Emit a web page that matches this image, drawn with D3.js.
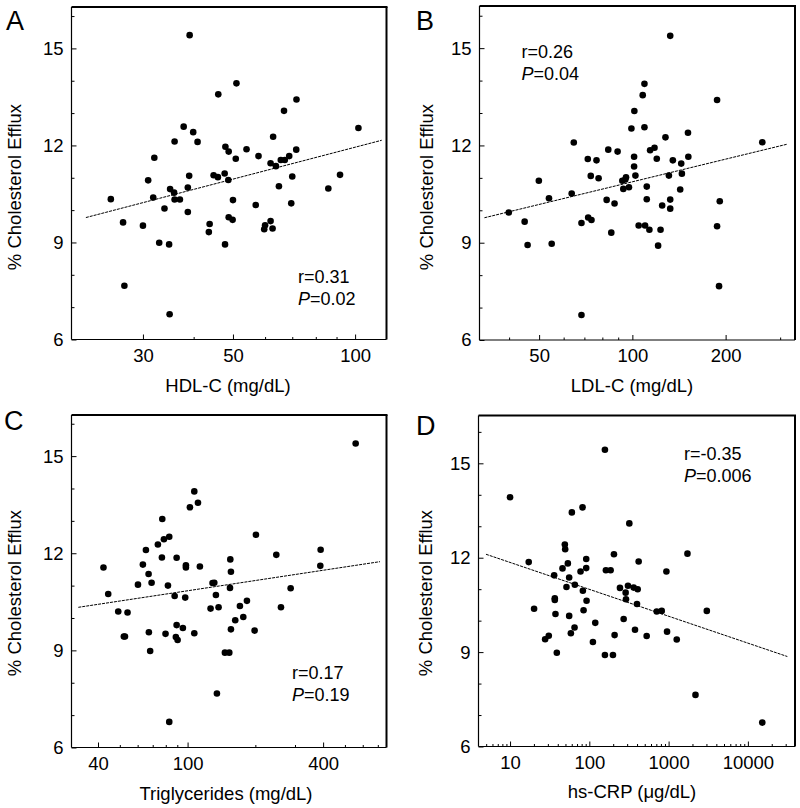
<!DOCTYPE html>
<html>
<head>
<meta charset="utf-8">
<script src="https://cdn.jsdelivr.net/npm/d3@7"></script>
<style>
  html, body { margin: 0; padding: 0; background: #fff; }
  svg { display: block; font-family: "Liberation Sans", Arial, sans-serif; }
</style>
</head>
<body>
<svg id="chart" width="800" height="808"></svg>
<script>
// ---- data ----
// Panel A: HDL-C (mg/dL) vs % cholesterol efflux
const hdlX = [39.1, 51.0, 46.0, 71.7, 66.8, 37.8, 39.9, 101.9, 35.9, 40.9, 62.8, 47.9, 48.8, 54.0, 71.6,
  32.0, 57.8, 50.8, 68.8, 65.6, 67.1, 61.9, 63.8, 47.7, 44.8, 45.9, 39.0, 70.0, 91.8, 30.9, 48.7, 38.7,
  64.9, 85.9, 25.0, 31.8, 35.0, 35.8, 35.9, 37.0, 50.0, 56.9, 69.6, 33.9, 38.7, 26.8, 30.0, 43.8, 48.8,
  49.9, 43.6, 59.7, 60.0, 61.9, 62.6, 32.9, 34.8, 47.8, 27.0, 34.9];
const hdlY = [15.41, 13.92, 13.58, 13.42, 13.07, 12.58, 12.41, 12.54, 12.12, 12.11, 12.27, 11.96, 11.81,
  11.88, 11.87, 11.62, 11.67, 11.59, 11.67, 11.55, 11.55, 11.45, 11.36, 11.13, 11.08, 11.02, 11.06, 11.04,
  11.09, 10.92, 10.93, 10.70, 10.74, 10.67, 10.34, 10.39, 10.65, 10.54, 10.33, 10.33, 10.31, 10.16, 10.21,
  10.05, 9.94, 9.62, 9.52, 9.57, 9.78, 9.70, 9.32, 9.41, 9.53, 9.66, 9.43, 8.99, 8.94, 8.94, 7.66, 6.78];

// Panel B: LDL-C (mg/dL)
const ldlX = [132.5, 109.4, 108.0, 187.7, 101.5, 109.4, 99.3, 151.2, 64.7, 262.7, 127.9, 83.6, 89.6, 117.9,
  114.1, 71.8, 76.6, 101.3, 119.9, 135.1, 151.6, 143.8, 101.3, 73.4, 77.8, 102.3, 131.2, 144.5, 49.9, 92.8,
  95.4, 94.9, 93.5, 97.5, 53.8, 63.7, 111.3, 142.7, 82.6, 87.6, 111.3, 132.5, 124.8, 132.5, 39.9, 44.9, 68.5,
  72.0, 73.8, 104.8, 109.9, 113.5, 123.3, 85.5, 187.7, 191.5, 45.9, 54.9, 121.1, 190.5, 68.5];
const ldlY = [15.38, 13.90, 13.55, 13.40, 13.06, 12.56, 12.52, 12.39, 12.09, 12.10, 12.25, 11.87, 11.81,
  11.93, 11.85, 11.58, 11.54, 11.65, 11.59, 11.54, 11.65, 11.44, 11.35, 11.06, 10.99, 11.07, 11.07, 11.13,
  10.91, 10.91, 11.02, 10.95, 10.66, 10.71, 10.37, 10.52, 10.73, 10.64, 10.32, 10.21, 10.34, 10.33, 10.15,
  10.05, 9.93, 9.65, 9.61, 9.78, 9.70, 9.53, 9.53, 9.40, 9.40, 9.31, 9.51, 10.28, 8.93, 8.97, 8.91, 7.66, 6.77];

// Panel C: triglycerides (mg/dL)
const tgX = [558, 107.1, 111.2, 102.4, 77.2, 82.9, 78.5, 73.8, 65.3, 201.2, 390, 247.8, 76.9, 89.4, 63.3,
  42.3, 98.3, 98.3, 113.4, 154.8, 155.8, 67.1, 388.7, 69.2, 60.2, 81.8, 129.1, 131.4, 44.4, 133.6, 87.6,
  154.3, 97.6, 287, 49.2, 54.1, 126.5, 137.3, 183.5, 170.8, 259.9, 162.8, 176.8, 52.1, 52.7, 67.3, 79.8,
  89.4, 95.3, 88.7, 90.3, 107.1, 155.8, 198.5, 68.2, 146.5, 153.2, 135.0, 82.9];
const tgY = [15.39, 13.91, 13.56, 13.42, 13.06, 12.51, 12.43, 12.27, 12.10, 12.57, 12.11, 11.95, 11.87,
  11.86, 11.65, 11.56, 11.63, 11.56, 11.59, 11.81, 11.43, 11.36, 11.61, 11.09, 11.03, 11.00, 11.08, 11.09,
  10.74, 10.71, 10.68, 10.93, 10.63, 10.92, 10.20, 10.17, 10.29, 10.33, 10.53, 10.37, 10.33, 9.93, 10.03,
  9.43, 9.43, 9.56, 9.51, 9.78, 9.69, 9.41, 9.32, 9.53, 9.65, 9.61, 8.98, 8.93, 8.93, 7.67, 6.79];

// Panel D: hs-CRP (ug/dL)
const crpX = [157.3, 10, 82.1, 60.2, 319.5, 49.1, 49.6, 1729, 204.5, 17.2, 419, 91.4, 53.6, 45.9, 91.4,
  77.5, 161.9, 185.5, 938, 36.0, 55.7, 65.7, 51.5, 243.5, 307.3, 362.4, 407.3, 82.9, 287.1, 36.7, 36.7,
  290, 92.3, 399.4, 20.1, 37.4, 84.6, 55.7, 708, 819, 3034, 118.8, 270.9, 65.1, 58.5, 376.9, 956, 27.7,
  30.8, 111, 208.4, 529, 1267, 38.9, 157.3, 198.6, 2183, 15190];
const crpY = [15.43, 13.92, 13.60, 13.44, 13.09, 12.42, 12.27, 12.13, 12.11, 11.86, 11.88, 11.96, 11.82,
  11.66, 11.67, 11.56, 11.60, 11.60, 11.56, 11.44, 11.37, 11.14, 11.07, 11.04, 11.11, 11.05, 11.00, 10.95,
  10.89, 10.71, 10.66, 10.68, 10.63, 10.53, 10.38, 10.21, 10.33, 10.15, 10.29, 10.31, 10.31, 9.93, 10.05,
  9.78, 9.60, 9.71, 9.65, 9.41, 9.52, 9.32, 9.54, 9.51, 9.40, 8.98, 8.91, 8.91, 7.64, 6.76];

// regression line end points [x, y]
const hdlFit = [[21.7, 9.77], [116.3, 12.16]];
const ldlFit = [[33.3, 9.77], [316.6, 12.04]];
const tgFit = [[32.7, 10.33], [715.7, 11.74]];
const crpFit = [[4.97, 12.11], [31450, 8.86]];

// y ticks (shared)
const yMajor = [6, 9, 12, 15];
const yMinor = [7, 8, 10, 11, 13, 14, 16];

// x ticks
const hdlMajor = [30, 50, 100];
const hdlMinor = [40, 60, 70, 80, 90];
const ldlMajor = [50, 100, 200];
const ldlMinor = [40, 60, 70, 80, 90, 300];
const tgMajor = [40, 100, 400];
const tgMinor = [50, 60, 70, 80, 90, 200, 300, 500, 600, 700];
const crpMajor = [10, 100, 1000, 10000];
const crpMinor = [5, 6, 7, 8, 9, 20, 30, 40, 50, 60, 70, 80, 90, 200, 300, 400, 500, 600, 700, 800, 900,
  2000, 3000, 4000, 5000, 6000, 7000, 8000, 9000, 20000, 30000];

const svg = d3.select('#chart');

const panels = [
  { letter: 'A', xs: hdlX, ys: hdlY, fit: hdlFit, major: hdlMajor, minor: hdlMinor,
    xDomain: [20, 119.5], yDomain: [6, 16.28],
    left: 71.5, right: 386.5, top: 7, bottom: 339.5,
    xTitle: 'HDL-C (mg/dL)', xTitlePos: [228, 392], yTitlePos: [20.5, 187],
    letterPos: [6, 30], r: 'r=0.31', p: '=0.02', statPos: [298, 283] },
  { letter: 'B', xs: ldlX, ys: ldlY, fit: ldlFit, major: ldlMajor, minor: ldlMinor,
    xDomain: [32.1, 335], yDomain: [6, 16.3],
    left: 479.5, right: 795, top: 6, bottom: 340,
    xTitle: 'LDL-C (mg/dL)', xTitlePos: [632, 392], yTitlePos: [432.5, 187],
    letterPos: [416, 29.5], r: 'r=0.26', p: '=0.04', statPos: [521.5, 58] },
  { letter: 'C', xs: tgX, ys: tgY, fit: tgFit, major: tgMajor, minor: tgMinor,
    xDomain: [30.5, 765], yDomain: [6, 16.27],
    left: 71.5, right: 386.5, top: 415, bottom: 747.5,
    xTitle: 'Triglycerides (mg/dL)', xTitlePos: [226, 800], yTitlePos: [21, 593],
    letterPos: [4, 429.5], r: 'r=0.17', p: '=0.19', statPos: [292, 679] },
  { letter: 'D', xs: crpX, ys: crpY, fit: crpFit, major: crpMajor, minor: crpMinor,
    xDomain: [4, 39300], yDomain: [6, 16.52],
    left: 478.5, right: 795, top: 415.5, bottom: 746.5,
    xTitle: 'hs-CRP (\u03bcg/dL)', xTitlePos: [632, 798], yTitlePos: [431.5, 593],
    letterPos: [416, 435], r: 'r=-0.35', p: '=0.006', statPos: [684, 460] }
];

function drawPanel(p) {
  const g = svg.append('g');
  const x = d3.scaleLog().domain(p.xDomain).range([p.left, p.right]);
  const y = d3.scaleLinear().domain(p.yDomain).range([p.bottom, p.top]);
  const fmt = d3.format('d');

  // x axis: minor then major ticks, pointing inward
  g.append('g')
    .attr('transform', `translate(0,${p.bottom})`)
    .call(d3.axisBottom(x).tickValues(p.minor).tickSize(-2.5).tickSizeOuter(0).tickFormat(''))
    .call(a => a.select('.domain').remove());
  g.append('g')
    .attr('transform', `translate(0,${p.bottom})`)
    .call(d3.axisBottom(x).tickValues(p.major).tickSize(-5).tickSizeOuter(0).tickPadding(9).tickFormat(fmt))
    .call(a => a.select('.domain').remove())
    .call(a => a.selectAll('text').style('font-size', '18.5px').style('font-family', 'inherit'));

  // y axis
  g.append('g')
    .attr('transform', `translate(${p.left},0)`)
    .call(d3.axisLeft(y).tickValues(yMinor.filter(v => v <= p.yDomain[1])).tickSize(-3).tickSizeOuter(0).tickFormat(''))
    .call(a => a.select('.domain').remove());
  g.append('g')
    .attr('transform', `translate(${p.left},0)`)
    .call(d3.axisLeft(y).tickValues(yMajor).tickSize(-5).tickSizeOuter(0).tickPadding(8).tickFormat(fmt))
    .call(a => a.select('.domain').remove())
    .call(a => a.selectAll('text').style('font-size', '18.5px').style('font-family', 'inherit'));

  // frame: thin left/bottom, heavier top/right
  g.append('line').attr('x1', p.left).attr('x2', p.left).attr('y1', p.top).attr('y2', p.bottom)
    .attr('stroke', '#000').attr('stroke-width', 1.2);
  g.append('line').attr('x1', p.left).attr('x2', p.right).attr('y1', p.bottom).attr('y2', p.bottom)
    .attr('stroke', '#000').attr('stroke-width', 1.2);
  g.append('line').attr('x1', p.left).attr('x2', p.right + 1).attr('y1', p.top).attr('y2', p.top)
    .attr('stroke', '#000').attr('stroke-width', 2);
  g.append('line').attr('x1', p.right).attr('x2', p.right).attr('y1', p.top).attr('y2', p.bottom)
    .attr('stroke', '#000').attr('stroke-width', 2);

  // regression line
  g.append('line')
    .attr('x1', x(p.fit[0][0])).attr('y1', y(p.fit[0][1]))
    .attr('x2', x(p.fit[1][0])).attr('y2', y(p.fit[1][1]))
    .attr('stroke', '#000').attr('stroke-width', 1)
    .attr('stroke-dasharray', '3,1');

  // points
  g.selectAll('circle.pt')
    .data(p.xs.map((v, i) => [v, p.ys[i]]))
    .join('circle')
    .attr('class', 'pt')
    .attr('cx', d => x(d[0]))
    .attr('cy', d => y(d[1]))
    .attr('r', 3.3)
    .attr('fill', '#000');

  // axis titles
  g.append('text')
    .attr('x', p.xTitlePos[0]).attr('y', p.xTitlePos[1])
    .attr('text-anchor', 'middle')
    .style('font-size', '18.5px')
    .text(p.xTitle);
  g.append('text')
    .attr('transform', `translate(${p.yTitlePos[0]},${p.yTitlePos[1]}) rotate(-90)`)
    .attr('text-anchor', 'middle')
    .style('font-size', '18.5px')
    .text('% Cholesterol Efflux');

  // panel letter
  g.append('text')
    .attr('x', p.letterPos[0]).attr('y', p.letterPos[1])
    .style('font-size', '27px')
    .text(p.letter);

  // statistics
  g.append('text')
    .attr('x', p.statPos[0]).attr('y', p.statPos[1])
    .style('font-size', '18px')
    .text(p.r);
  const pt = g.append('text')
    .attr('x', p.statPos[0]).attr('y', p.statPos[1] + 22)
    .style('font-size', '18px');
  pt.append('tspan').style('font-style', 'italic').text('P');
  pt.append('tspan').text(p.p);
}

panels.forEach(drawPanel);
</script>
</body>
</html>
